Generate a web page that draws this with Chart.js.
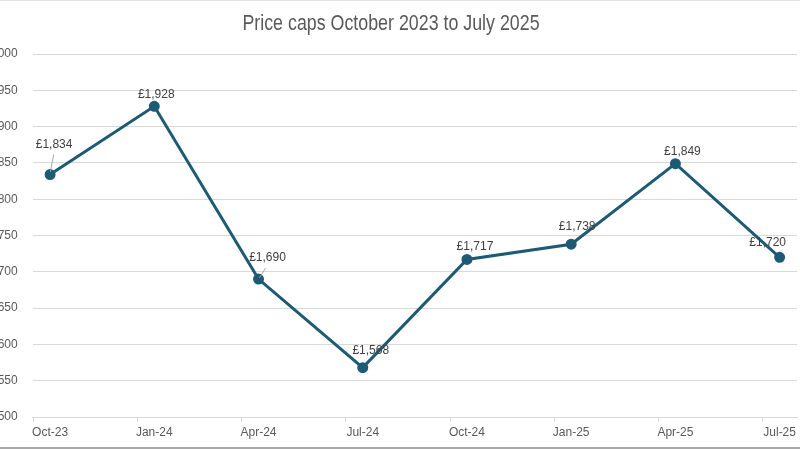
<!DOCTYPE html>
<html>
<head>
<meta charset="utf-8">
<script src="https://cdn.jsdelivr.net/npm/chart.js@4.4.1/dist/chart.umd.min.js"></script>
<style>
html,body{margin:0;padding:0;background:#fff;}
#wrap{position:relative;width:800px;height:450px;overflow:hidden;background:#fff;}
#c{position:absolute;left:-40px;top:0;}
#topline{position:absolute;left:0;top:0;width:800px;height:1px;background:#e4e4e4;}
#botline{position:absolute;left:0;top:447px;width:800px;height:2px;background:#a8a8a8;}
</style>
</head>
<body>
<div id="wrap">
  <canvas id="c" width="850" height="450"></canvas>
  <div id="topline"></div>
  <div id="botline"></div>
</div>
<script>
// ---- data ----
const chartTitle = 'Price caps October 2023 to July 2025';
const categories = ['Oct-23', 'Jan-24', 'Apr-24', 'Jul-24', 'Oct-24', 'Jan-25', 'Apr-25', 'Jul-25'];
const monthsFromOct23 = [0, 3, 6, 9, 12, 15, 18, 21];
const priceCaps = [1834, 1928, 1690, 1568, 1717, 1738, 1849, 1720];
const yMin = 1500, yMax = 2000, yStep = 50;

// ---- styling ----
const lineColor = '#1d5a73';
const gridColor = '#d9d9d9';
const tickColor = '#595959';
const labelColor = '#404040';
// data label offsets (px) relative to each point, and which labels have leader lines
const labelOffsets = [[4, -30], [2, -12], [9, -21], [8, -17], [8, -13], [6, -18], [7, -12], [-12, -15]];
const leaderLines = {0: [[3.6, -20], [0.3, -2.6]], 2: [[7, -11], [1, -1.3]]};

Chart.defaults.font.family = "'Liberation Sans', Arial, sans-serif";
Chart.defaults.font.size = 12;
Chart.defaults.color = tickColor;

const fmt = v => '£' + Number(v).toLocaleString('en-GB');

const titlePlugin = {
  id: 'narrowTitle',
  afterDraw(chart) {
    const ctx = chart.ctx;
    ctx.save();
    ctx.translate(431, 24);
    ctx.scale(0.81, 1);
    ctx.fillStyle = tickColor;
    ctx.font = "22px 'Liberation Sans', Arial, sans-serif";
    ctx.textAlign = 'center';
    ctx.textBaseline = 'middle';
    ctx.fillText(chartTitle, 0, 0);
    ctx.restore();
  }
};

const dataLabelPlugin = {
  id: 'dataLabels',
  afterDatasetsDraw(chart) {
    const ctx = chart.ctx;
    const meta = chart.getDatasetMeta(0);
    ctx.save();
    meta.data.forEach((pt, i) => {
      const lead = leaderLines[i];
      if (lead) {
        ctx.strokeStyle = '#a6a6a6';
        ctx.lineWidth = 1;
        ctx.beginPath();
        ctx.moveTo(pt.x + lead[0][0], pt.y + lead[0][1]);
        ctx.lineTo(pt.x + lead[1][0], pt.y + lead[1][1]);
        ctx.stroke();
      }
      const off = labelOffsets[i];
      ctx.fillStyle = labelColor;
      ctx.font = "12px 'Liberation Sans', Arial, sans-serif";
      ctx.textAlign = 'center';
      ctx.textBaseline = 'middle';
      ctx.fillText(fmt(priceCaps[i]), pt.x + off[0], pt.y + off[1]);
    });
    ctx.restore();
  }
};

const tickMarkPlugin = {
  id: 'tickMarks',
  afterDraw(chart) {
    const xs = chart.scales.x;
    const ctx = chart.ctx;
    ctx.save();
    ctx.strokeStyle = gridColor;
    ctx.lineWidth = 1;
    monthsFromOct23.forEach(m => {
      const x = Math.round(xs.getPixelForValue(m - 0.5)) + 0.5;
      ctx.beginPath();
      ctx.moveTo(x, xs.top);
      ctx.lineTo(x, xs.top + 5);
      ctx.stroke();
    });
    ctx.restore();
  }
};

new Chart(document.getElementById('c'), {
  type: 'line',
  data: {
    datasets: [{
      data: monthsFromOct23.map((m, i) => ({x: m, y: priceCaps[i]})),
      borderColor: lineColor,
      backgroundColor: lineColor,
      borderWidth: 3,
      pointRadius: 4,
      pointHoverRadius: 4,
      pointBackgroundColor: lineColor,
      pointBorderColor: lineColor,
      tension: 0,
      clip: false
    }]
  },
  options: {
    responsive: false,
    animation: false,
    devicePixelRatio: 1,
    layout: {padding: {left: 0, right: 13, top: 54, bottom: 2.6}},
    plugins: {
      legend: {display: false},
      tooltip: {enabled: false},
      title: {display: false}
    },
    scales: {
      x: {
        type: 'linear',
        min: -0.5,
        max: 21.5,
        afterBuildTicks: s => { s.ticks = monthsFromOct23.map(v => ({value: v})); },
        ticks: {
          autoSkip: false,
          maxRotation: 0,
          padding: 8,
          color: tickColor,
          callback: (v, i) => categories[i]
        },
        grid: {display: false, drawTicks: false},
        border: {display: true, color: gridColor, width: 1}
      },
      y: {
        min: yMin,
        max: yMax,
        afterFit: s => { s.width = 72.7; },
        ticks: {stepSize: yStep, padding: 15, color: tickColor, callback: v => fmt(v)},
        grid: {color: gridColor, drawTicks: false},
        border: {display: false}
      }
    }
  },
  plugins: [dataLabelPlugin, tickMarkPlugin, titlePlugin]
});
</script>
</body>
</html>
